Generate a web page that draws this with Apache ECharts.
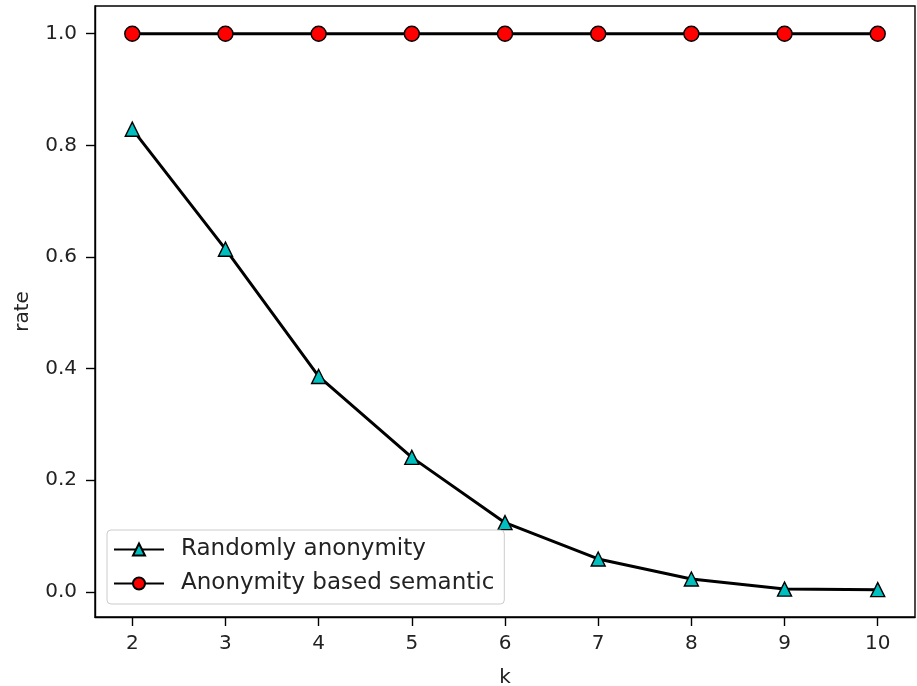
<!DOCTYPE html>
<html>
<head>
<meta charset="utf-8">
<script src="https://cdn.jsdelivr.net/npm/echarts@6/dist/echarts.min.js"></script>
<style>
html,body{margin:0;padding:0;background:#fff;}
#chart{width:917px;height:686px;}
</style>
</head>
<body>
<div id="chart"></div>
<script>
var kValues = [2, 3, 4, 5, 6, 7, 8, 9, 10];
var randomlyAnonymity = [0.829, 0.614, 0.386, 0.241, 0.124, 0.059, 0.023, 0.005, 0.004];
var semanticAnonymity = [1.0, 1.0, 1.0, 1.0, 1.0, 1.0, 1.0, 1.0, 1.0];
var xTicks = [2, 3, 4, 5, 6, 7, 8, 9, 10];
var yTicks = [0.0, 0.2, 0.4, 0.6, 0.8, 1.0];
var seriesNames = ['Randomly anonymity', 'Anonymity based semantic'];

function pairs(xs, ys) { return xs.map(function (x, i) { return [x, ys[i]]; }); }

var font = 'DejaVu Sans';
var chart = echarts.init(document.getElementById('chart'), null, {renderer: 'canvas'});
chart.setOption({
  animation: false,
  backgroundColor: '#fff',
  textStyle: {fontFamily: font},
  grid: {left: 95, top: 6, width: 820, height: 611, containLabel: false, outerBoundsMode: 'none',
    show: true, borderColor: '#000', borderWidth: 1.4, backgroundColor: 'transparent'},
  legend: {
    orient: 'vertical', left: 107, top: 530,
    data: seriesNames,
    itemWidth: 50, itemHeight: 15, itemGap: 7,
    padding: [6, 10, 7, 6],
    backgroundColor: 'rgba(255,255,255,0.8)',
    borderColor: '#cccccc', borderWidth: 1, borderRadius: 4,
    textStyle: {fontFamily: font, fontSize: 23, lineHeight: 27, color: '#222', padding: [0, 0, 0, 12]}
  },
  xAxis: {
    type: 'value', min: 1.6, max: 10.4,
    name: 'k', nameLocation: 'middle', nameGap: 51,
    nameTextStyle: {fontFamily: font, fontSize: 20, color: '#222'},
    axisLine: {show: true, onZero: false, lineStyle: {color: '#000', width: 1.4}},
    axisTick: {show: true, length: 9, lineStyle: {color: '#000', width: 1.4}, customValues: xTicks},
    axisLabel: {fontFamily: font, fontSize: 20, color: '#222', margin: 17, customValues: xTicks},
    splitLine: {show: false}
  },
  yAxis: {
    type: 'value', min: -0.045, max: 1.0497,
    name: 'rate', nameLocation: 'middle', nameGap: 62, nameRotate: 90,
    nameTextStyle: {fontFamily: font, fontSize: 20, color: '#222'},
    axisLine: {show: true, onZero: false, lineStyle: {color: '#000', width: 1.4}},
    axisTick: {show: true, length: 9, lineStyle: {color: '#000', width: 1.4}, customValues: yTicks},
    axisLabel: {fontFamily: font, fontSize: 20, color: '#222', margin: 18, customValues: yTicks,
      formatter: function (v) { return v.toFixed(1); }},
    splitLine: {show: false}
  },
  series: [
    {
      name: seriesNames[0], type: 'line', data: pairs(kValues, randomlyAnonymity),
      symbol: 'triangle', symbolSize: 14,
      lineStyle: {color: '#000', width: 3},
      itemStyle: {color: '#00bfbf', borderColor: '#000', borderWidth: 1.4}
    },
    {
      name: seriesNames[1], type: 'line', data: pairs(kValues, semanticAnonymity),
      symbol: 'circle', symbolSize: 15,
      lineStyle: {color: '#000', width: 3},
      itemStyle: {color: '#ff0000', borderColor: '#000', borderWidth: 1.4}
    }
  ]
});
</script>
</body>
</html>
